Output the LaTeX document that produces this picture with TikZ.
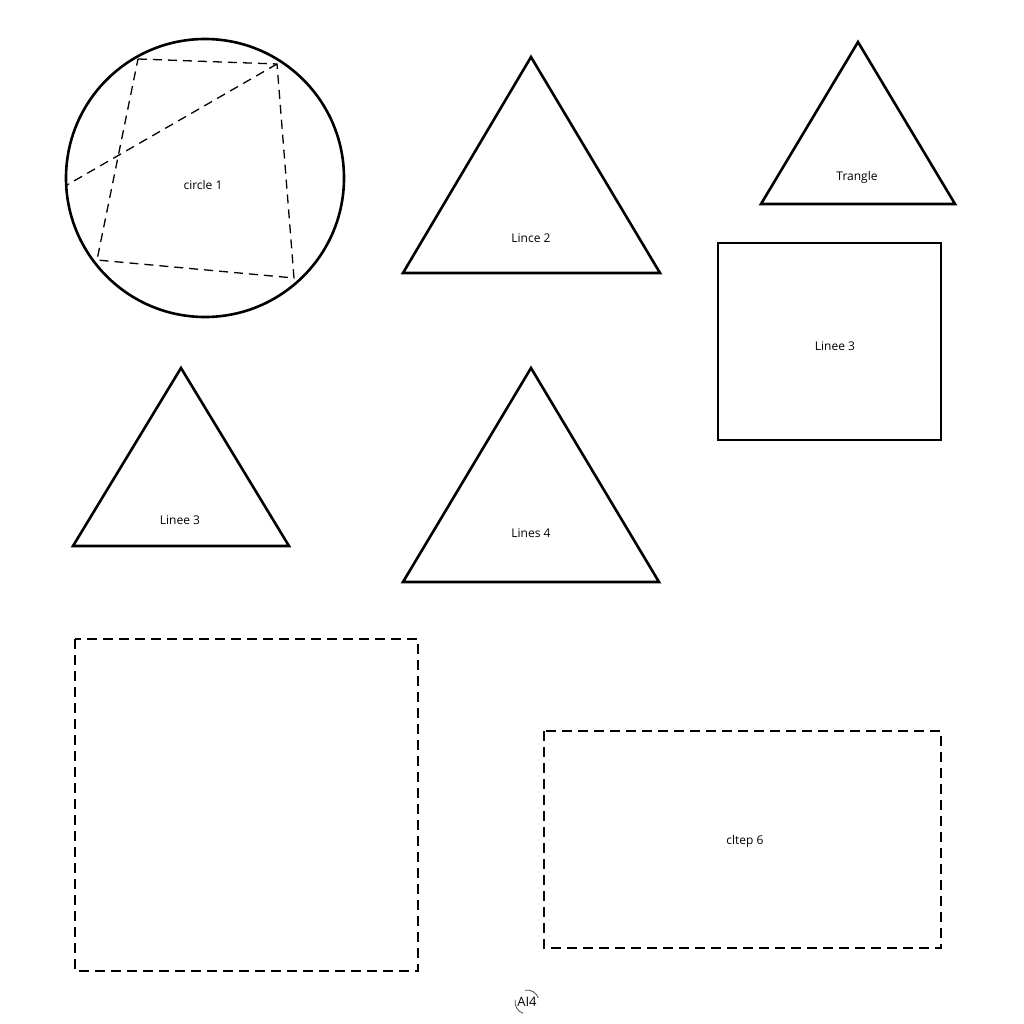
\documentclass[tikz,border=0pt]{standalone}
\usepackage{fontspec}
\setmainfont{Open Sans}
\begin{document}
\begin{tikzpicture}[x=1pt,y=-1pt,
  outl/.style={draw=black,line width=2.6pt,line join=miter},
  dbox/.style={draw=black,line width=2.4pt,dash pattern=on 10pt off 6pt},
  thindash/.style={draw=black,line width=1.3pt,dash pattern=on 9pt off 6pt},
  lbl/.style={font=\fontsize{12}{14}\selectfont,inner sep=0pt}]
\useasboundingbox (0,0) rectangle (1024,1024);
\fill[white] (0,0) rectangle (1024,1024);
% circle
\node[circle,outl,minimum size=278pt,inner sep=0pt] (c1) at (205,178) {};
\coordinate (q1) at (138,59);
\coordinate (q2) at (277,64);
\coordinate (q3) at (294,278);
\coordinate (q4) at (97,260);
\coordinate (q5) at (67,185);
\draw[thindash] (q1) -- (q2) -- (q3) -- (q4) -- cycle;
\draw[thindash] (q2) -- (q5);
\node[lbl] (t1) at (203,185) {circle 1};
% triangle Linee 2
\draw[outl] (531,57) -- (660,273) -- (403,273) -- cycle;
\node[lbl] (t2) at (531,238) {Lince 2};
% triangle Trangle
\draw[outl] (858,42) -- (955,204) -- (761,204) -- cycle;
\node[lbl] (t3) at (857,177) {Trangle};
% rectangle
\draw[outl] (718,243) rectangle (941,440);
\node[lbl] (t4) at (835,346) {Linee 3};
% left triangle
\draw[outl] (181,368) -- (289,546) -- (73,546) -- cycle;
\node[lbl] (t5) at (180,520) {Linee 3};
% middle triangle
\draw[outl] (531,368) -- (659,582) -- (403,582) -- cycle;
\node[lbl] (t6) at (531,533) {Lines 4};
% dashed boxes
\draw[dbox] (75,639) rectangle (418,971);
\draw[dbox] (544,731) rectangle (941,948);
\node[lbl] (t7) at (745,841) {cltep 6};
% footer
\node[lbl,font=\fontsize{13}{15}\selectfont] (t8) at (527,1002) {AI4};
\draw[line width=0.8pt,black!70] (t8.center) ++(-100:12) arc (-100:-20:12);
\draw[line width=0.8pt,black!70] (t8.center) ++(110:12) arc (110:190:12);
\end{tikzpicture}
\end{document}
